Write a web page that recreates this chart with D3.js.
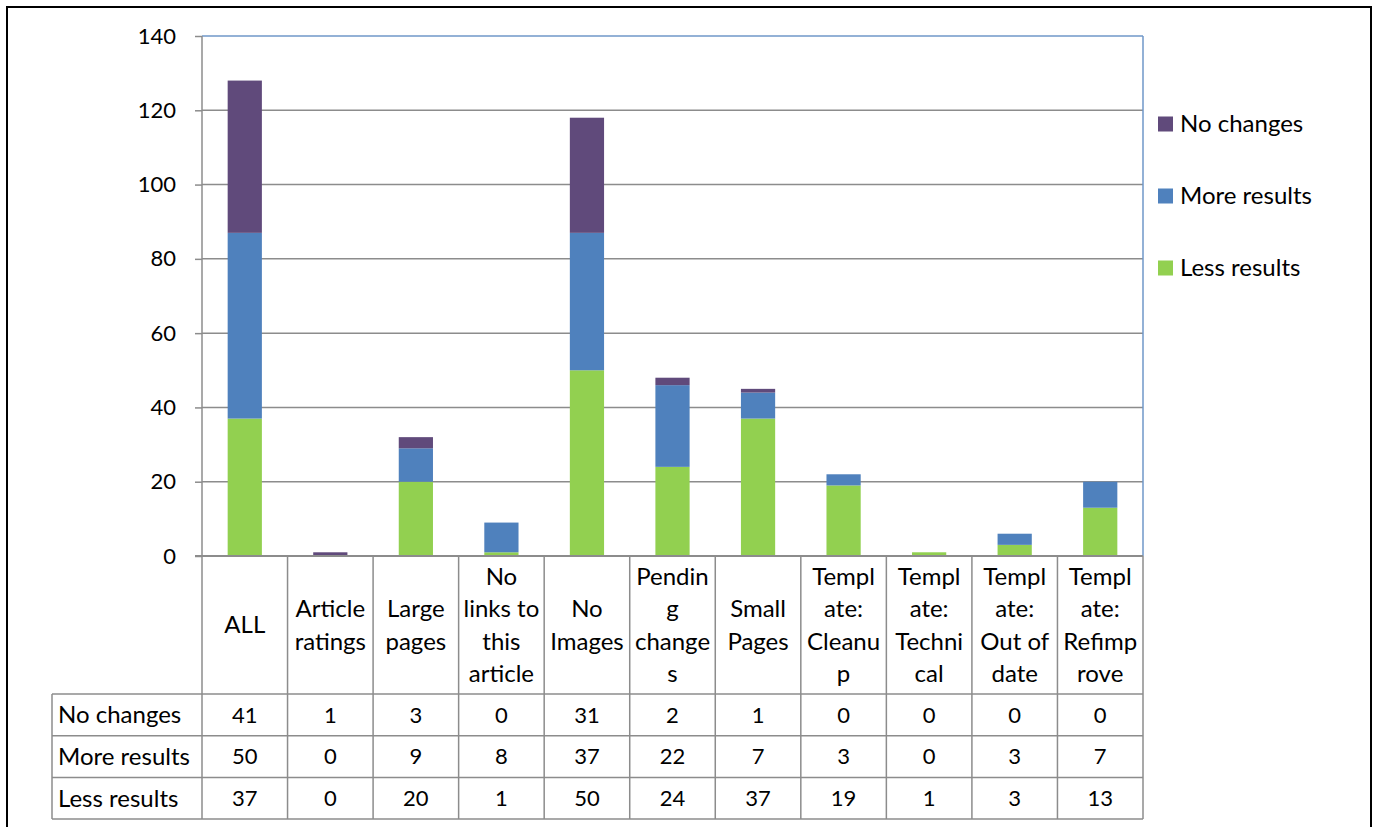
<!DOCTYPE html>
<html><head><meta charset="utf-8">
<script src="https://cdn.jsdelivr.net/npm/d3@7"></script>
<style>body{margin:0;background:#fff}svg{display:block}text{font-family:Lato,"Open Sans",sans-serif;fill:#000}</style>
</head><body><svg id="c" width="1377" height="827"></svg>
<script>
const categories = ["ALL","Article ratings","Large pages","No links to this article","No Images","Pending changes","Small Pages","Template: Cleanup","Template: Technical","Template: Out of date","Template: Refimprove"];
const categoryLines = [["ALL"],["Article","ratings"],["Large","pages"],["No","links to","this","article"],["No","Images"],["Pendin","g","change","s"],["Small","Pages"],["Templ","ate:","Cleanu","p"],["Templ","ate:","Techni","cal"],["Templ","ate:","Out of","date"],["Templ","ate:","Refimp","rove"]];
const noChanges = [41,1,3,0,31,2,1,0,0,0,0];
const moreResults = [50,0,9,8,37,22,7,3,0,3,7];
const lessResults = [37,0,20,1,50,24,37,19,1,3,13];
const seriesNames = ["Less results","More results","No changes"];
const seriesColors = ["#92D050","#4F81BD","#604A7B"];
const yTicks = [0,20,40,60,80,100,120,140];

const svg = d3.select("#c");
const L = 202, R = 1143, T = 36, B = 556;
const x = d3.scaleBand().domain(categories).range([L, R]).paddingInner(0).paddingOuter(0);
const y = d3.scaleLinear().domain([0, 140]).range([B, T]);
const fsNum = 22, fsWord = 24;

// outer border
svg.append("rect").attr("x",7).attr("y",7).attr("width",1364).attr("height",840).attr("fill","none").attr("stroke","#000").attr("stroke-width",2);

// gridlines
svg.append("g").selectAll("line").data(yTicks.filter(t=>t>0 && t<140)).join("line")
  .attr("x1",L).attr("x2",R).attr("y1",d=>y(d)).attr("y2",d=>y(d)).attr("stroke","#8c8c8c").attr("stroke-width",1.5);

// y axis
const yAxis = d3.axisLeft(y).tickValues(yTicks).tickSize(7).tickPadding(19);
const ga = svg.append("g").attr("transform",`translate(${L},0)`).call(yAxis);
ga.select(".domain").remove();
ga.selectAll(".tick line").attr("stroke","#8c8c8c").attr("stroke-width",1.5);
ga.selectAll(".tick text").attr("font-size",fsNum).style("font-family","Lato").attr("fill","#000");

// stacked bars
const rows = categories.map((c,i)=>({cat:c,"Less results":lessResults[i],"More results":moreResults[i],"No changes":noChanges[i]}));
const stack = d3.stack().keys(seriesNames)(rows);
const bw = x.bandwidth()*0.4;
svg.append("g").selectAll("g").data(stack).join("g").attr("fill",(d,i)=>seriesColors[i])
  .selectAll("rect").data(d=>d).join("rect")
  .attr("x",d=>x(d.data.cat)+(x.bandwidth()-bw)/2).attr("width",bw)
  .attr("y",d=>y(d[1])).attr("height",d=>y(d[0])-y(d[1]));

// plot border: top & right blue, left & bottom grey
svg.append("line").attr("x1",L).attr("x2",R).attr("y1",T).attr("y2",T).attr("stroke","#6f97c9").attr("stroke-width",1.5);
svg.append("line").attr("x1",R).attr("x2",R).attr("y1",T).attr("y2",B).attr("stroke","#6f97c9").attr("stroke-width",1.5);
svg.append("line").attr("x1",L).attr("x2",L).attr("y1",T).attr("y2",B).attr("stroke","#8c8c8c").attr("stroke-width",1.5);
svg.append("line").attr("x1",L-7).attr("x2",R).attr("y1",B).attr("y2",B).attr("stroke","#8c8c8c").attr("stroke-width",2);

// data table
const rowTop = 694, rowH = 41.7, labelX = 52;
const tableRows = [["No changes",noChanges],["More results",moreResults],["Less results",lessResults]];
const tg = svg.append("g");
const gridC = "#8c8c8c";
const bounds = categories.map(c=>x(c)).concat([R]);
tg.selectAll("line.v").data(bounds).join("line").attr("class","v")
  .attr("x1",d=>d).attr("x2",d=>d).attr("y1",B).attr("y2",rowTop+3*rowH).attr("stroke",gridC).attr("stroke-width",1.5);
tg.append("line").attr("x1",labelX).attr("x2",labelX).attr("y1",rowTop).attr("y2",rowTop+3*rowH).attr("stroke",gridC).attr("stroke-width",1.5);
tg.selectAll("line.h").data([0,1,2,3]).join("line").attr("class","h")
  .attr("x1",labelX).attr("x2",R).attr("y1",d=>rowTop+d*rowH).attr("y2",d=>rowTop+d*rowH).attr("stroke",gridC).attr("stroke-width",1.5);

// header labels
const lh = 32.5, hc = (B+rowTop)/2;
categories.forEach((c,i)=>{
  const lines = categoryLines[i];
  const t = tg.append("text").attr("text-anchor","middle").attr("font-size",fsWord);
  lines.forEach((ln,j)=>{
    t.append("tspan").attr("x",x(c)+x.bandwidth()/2).attr("y",hc+(j-(lines.length-1)/2)*lh).attr("dy","0.35em").text(ln);
  });
});
// row labels + values
tableRows.forEach(([name,vals],r)=>{
  const cy = rowTop + r*rowH + rowH/2;
  tg.append("text").attr("x",labelX+6).attr("y",cy).attr("dy","0.35em").attr("font-size",fsWord).text(name);
  tg.selectAll(null).data(vals).join("text").attr("text-anchor","middle")
    .attr("x",(d,i)=>x(categories[i])+x.bandwidth()/2).attr("y",cy).attr("dy","0.35em").attr("font-size",fsNum).text(d=>d);
});

// legend
const legY = [124,196,268];
const legend = svg.append("g");
["No changes","More results","Less results"].forEach((n,i)=>{
  const col = seriesColors[seriesNames.indexOf(n)];
  legend.append("rect").attr("x",1158).attr("y",legY[i]-7.5).attr("width",15).attr("height",15).attr("fill",col);
  legend.append("text").attr("x",1180).attr("y",legY[i]).attr("dy","0.35em").attr("font-size",fsWord).text(n);
});
</script></body></html>
